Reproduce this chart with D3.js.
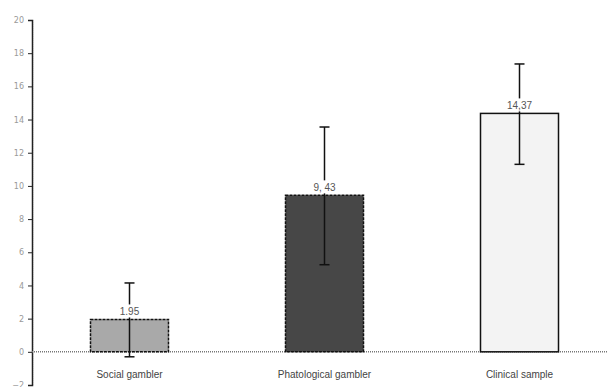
<!DOCTYPE html>
<html>
<head>
<meta charset="utf-8">
<script src="https://cdn.jsdelivr.net/npm/d3@7"></script>
<style>
  body { margin: 0; background: #fff; }
  svg { display: block; }
</style>
</head>
<body>
<div id="chart"></div>
<script>
var groups = ["Social gambler", "Phatological gambler", "Clinical sample"];
var means = [1.95, 9.43, 14.37];
var meanLabels = ["1.95", "9, 43", "14,37"];
var errUp = [4.15, 13.55, 17.35];
var errDown = [-0.3, 5.25, 11.3];
var yTicks = [-2, 0, 2, 4, 6, 8, 10, 12, 14, 16, 18, 20];
var fills = ["#a9a9a9", "#474747", "#f3f3f3"];

var width = 608, height = 387;

var svg = d3.select("#chart").append("svg")
    .attr("width", width)
    .attr("height", height);

var y = d3.scaleLinear().domain([-2, 20]).range([385, 20]);
var x = d3.scaleBand().domain(groups).range([32, 617]).paddingInner(0.6).paddingOuter(0.3);

// y axis
var yAxis = d3.axisLeft(y).tickValues(yTicks).tickSize(4).tickFormat(d3.format("d"));
var ya = svg.append("g").attr("transform", "translate(32,0)").call(yAxis);
ya.select(".domain").attr("stroke", "#222").attr("stroke-width", 1.5);
ya.selectAll(".tick line").attr("stroke", "#222");
ya.selectAll("text").attr("fill", "#999").attr("font-family", "DejaVu Sans, sans-serif").attr("font-size", 8).attr("x", -8);

// minor dots along y axis
svg.append("line")
    .attr("x1", 33.5).attr("x2", 33.5)
    .attr("y1", y(20)).attr("y2", y(-2))
    .attr("stroke", "#bbb").attr("stroke-width", 1)
    .attr("stroke-dasharray", "1,1");

// zero line
svg.append("line")
    .attr("x1", 32).attr("x2", width)
    .attr("y1", y(0)).attr("y2", y(0))
    .attr("stroke", "#777").attr("stroke-width", 1.5)
    .attr("stroke-dasharray", "1,1");

// bars
svg.selectAll("rect.bar")
    .data(groups)
    .enter()
    .append("rect")
    .attr("class", "bar")
    .attr("x", function(d) { return x(d); })
    .attr("width", x.bandwidth())
    .attr("y", function(d, i) { return y(means[i]); })
    .attr("height", function(d, i) { return y(0) - y(means[i]); })
    .attr("fill", function(d, i) { return fills[i]; })
    .attr("stroke", "#111")
    .attr("stroke-width", 1.5)
    .attr("stroke-dasharray", function(d, i) { return i < 2 ? "3,1" : null; });

// error bars
var eb = svg.selectAll("g.err")
    .data(groups)
    .enter()
    .append("g")
    .attr("class", "err");

eb.append("line")
    .attr("x1", function(d) { return x(d) + x.bandwidth() / 2; })
    .attr("x2", function(d) { return x(d) + x.bandwidth() / 2; })
    .attr("y1", function(d, i) { return y(errUp[i]); })
    .attr("y2", function(d, i) { return y(errDown[i]); })
    .attr("stroke", "#111").attr("stroke-width", 1.5);

[errUp, errDown].forEach(function(arr) {
  eb.append("line")
    .attr("x1", function(d) { return x(d) + x.bandwidth() / 2 - 5; })
    .attr("x2", function(d) { return x(d) + x.bandwidth() / 2 + 5; })
    .attr("y1", function(d, i) { return y(arr[i]); })
    .attr("y2", function(d, i) { return y(arr[i]); })
    .attr("stroke", "#111").attr("stroke-width", 1.5);
});

// value labels with white backing
var vl = svg.selectAll("g.val")
    .data(groups)
    .enter()
    .append("g")
    .attr("class", "val");

vl.append("rect")
    .attr("x", function(d) { return x(d) + x.bandwidth() / 2 - 14; })
    .attr("y", function(d, i) { return y(means[i]) - 15; })
    .attr("width", 28)
    .attr("height", 13)
    .attr("fill", "#fff");

vl.append("text")
    .attr("x", function(d) { return x(d) + x.bandwidth() / 2; })
    .attr("y", function(d, i) { return y(means[i]) - 4; })
    .attr("text-anchor", "middle")
    .attr("font-family", "Liberation Sans, Arial, sans-serif")
    .attr("font-size", 10)
    .attr("fill", "#555")
    .text(function(d, i) { return meanLabels[i]; });

// category labels
svg.selectAll("text.cat")
    .data(groups)
    .enter()
    .append("text")
    .attr("class", "cat")
    .attr("x", function(d) { return x(d) + x.bandwidth() / 2; })
    .attr("y", 378)
    .attr("text-anchor", "middle")
    .attr("font-family", "Liberation Sans, Arial, sans-serif")
    .attr("font-size", 10)
    .attr("fill", "#444")
    .text(function(d) { return d; });
</script>
</body>
</html>
